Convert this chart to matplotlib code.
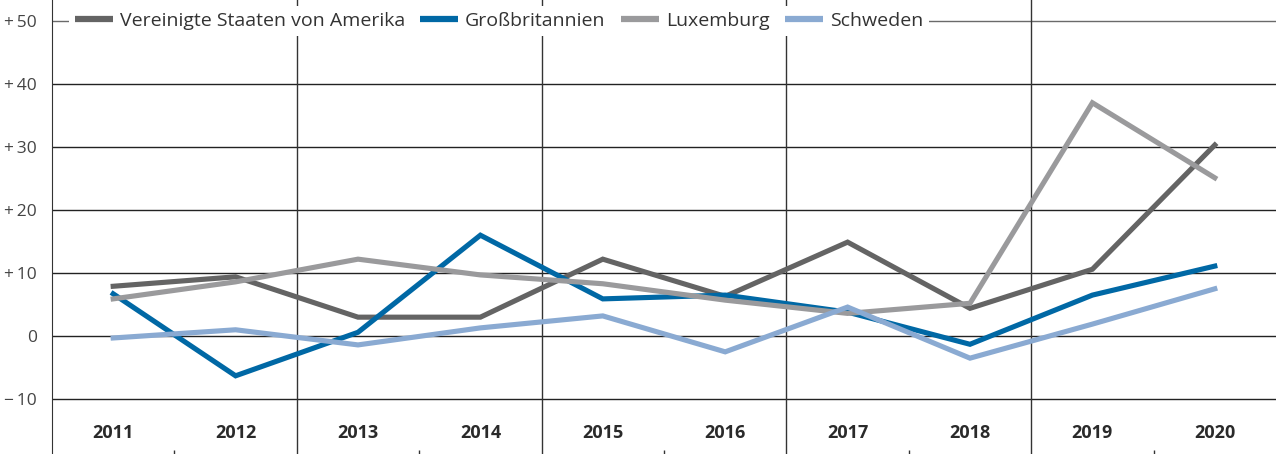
import matplotlib
matplotlib.use("Agg")
from matplotlib import pyplot as plt
from matplotlib import transforms
import numpy as np

jahre = ["2011", "2012", "2013", "2014", "2015", "2016", "2017", "2018", "2019", "2020"]
usa = [7.9, 9.4, 3.0, 3.0, 12.2, 6.3, 14.9, 4.4, 10.6, 30.3]
gb = [6.7, -6.3, 0.6, 16.0, 5.9, 6.5, 3.8, -1.3, 6.5, 11.1]
lux = [5.9, 8.6, 12.2, 9.7, 8.3, 5.7, 3.6, 5.2, 37.0, 25.1]
schweden = [-0.3, 1.0, -1.4, 1.3, 3.2, -2.5, 4.6, -3.5, 1.9, 7.5]

serien = [
    ("Vereinigte Staaten von Amerika", usa, "#646464"),
    ("Großbritannien", gb, "#0068a5"),
    ("Luxemburg", lux, "#9a9a9c"),
    ("Schweden", schweden, "#8aaad2"),
]

y_ticks = [50, 40, 30, 20, 10, 0, -10]
y_labels = ["+\u200950", "+\u200940", "+\u200930", "+\u200920", "+\u200910", "0", "\u2212\u200910"]

plt.rcParams["font.family"] = ["Open Sans", "DejaVu Sans"]


def main() -> None:
    fig = plt.figure(figsize=(12.76, 4.54), dpi=100)
    ax = fig.add_axes([52 / 1276, 0, 1 - 52 / 1276, 1])

    x = np.arange(len(jahre))
    for navn, werte, farbe in serien:
        ax.plot(x, werte, color=farbe, lw=3.7, label=navn, zorder=3,
                solid_joinstyle="miter")

    ax.set_xlim(-0.5, len(jahre) - 0.5)
    ax.set_ylim(-18.7, 53.3)

    # horizontale Linien
    for t in y_ticks:
        ax.axhline(t, color="#6a6a6a" if t == 50 else "#222222", lw=1.0, zorder=1)
    # Trennlinien zwischen Jahrespaaren
    for b in [1.5, 3.5, 5.5, 7.5]:
        ax.axvline(b, color="#333333", lw=1.0, zorder=1)

    ax.set_yticks(y_ticks)
    ax.set_yticklabels(y_labels, fontsize=12.5, color="#444444")
    ax.tick_params(axis="y", length=0, pad=11)

    ax.set_xticks([0.5, 2.5, 4.5, 6.5, 8.5])
    ax.set_xticklabels([])
    ax.tick_params(axis="x", direction="in", length=3, width=1, color="#333333")

    trans = transforms.blended_transform_factory(ax.transData, ax.transAxes)
    for i, j in enumerate(jahre):
        ax.text(i, 21 / 454, j, transform=trans, ha="center", va="center",
                fontsize=13, fontweight="bold", color="#2a2a2a")

    for s in ["top", "right", "bottom"]:
        ax.spines[s].set_visible(False)
    ax.spines["left"].set_color("#333333")

    leg = ax.legend(loc="center left", bbox_to_anchor=(17 / 1224, 1 - 21 / 454),
                    ncol=4, frameon=True, fontsize=14, handlelength=1.95,
                    handletextpad=0.35, columnspacing=0.8, borderpad=0.3,
                    borderaxespad=0, fancybox=False)
    leg.get_frame().set_facecolor("white")
    leg.get_frame().set_edgecolor("none")
    leg.get_frame().set_alpha(1)
    leg.set_zorder(5)
    for t in leg.get_texts():
        t.set_color("#333333")
    for h in leg.get_lines():
        h.set_linewidth(4.5)
        h.set_solid_capstyle("butt")

    fig.savefig("out.png", dpi=100)


if __name__ == "__main__":
    main()
